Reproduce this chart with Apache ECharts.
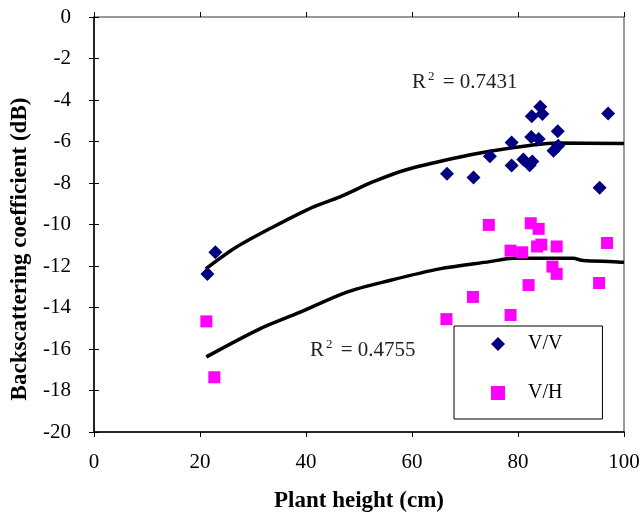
<!DOCTYPE html>
<html>
<head>
<meta charset="utf-8">
<script src="https://cdn.jsdelivr.net/npm/echarts@6/dist/echarts.min.js"></script>
<style>
  html, body { margin: 0; padding: 0; background: #fff; }
  #chart { width: 641px; height: 514px; }
</style>
</head>
<body>
<div id="chart"></div>
<script>
// V/V points [plant height cm, dB]
const vvPoints = [
  [21.4, -12.38], [22.9, -11.34], [66.6, -7.55], [71.6, -7.74], [74.7, -6.71],
  [78.8, -6.05], [78.8, -7.16], [81.0, -6.87], [82.2, -7.15], [82.7, -6.96],
  [82.5, -5.78], [83.9, -5.88], [82.6, -4.78], [84.2, -4.33], [84.6, -4.67],
  [87.5, -5.51], [86.7, -6.44], [87.6, -6.2], [97.0, -4.65], [95.4, -8.23]
];
// V/H points
const vhPoints = [
  [21.2, -14.67], [22.7, -17.36], [66.5, -14.56], [71.5, -13.49], [74.5, -10.02],
  [78.6, -11.26], [78.6, -14.36], [80.8, -11.34], [82.4, -9.94], [82.0, -12.92],
  [83.6, -11.06], [83.9, -10.21], [84.4, -10.97], [86.5, -12.03], [87.3, -11.06],
  [87.3, -12.38], [95.3, -12.82], [96.8, -10.89]
];
// fitted trend curves
const vvTrend = [
  [21.1, -12.14], [26.8, -11.1], [33.7, -10.13], [41.3, -9.16], [46.3, -8.68],
  [52.6, -7.95], [58.9, -7.36], [68.4, -6.78], [74.7, -6.47], [82.5, -6.18],
  [87.3, -6.07], [100, -6.1]
];
const vhTrend = [
  [21.2, -16.38], [31.2, -15.04], [38.8, -14.24], [47.6, -13.27], [55.8, -12.7],
  [65.2, -12.14], [74.7, -11.79], [79.1, -11.63], [90.4, -11.63], [92.3, -11.74],
  [98, -11.79], [100, -11.82]
];
const r2Labels = ['0.7431', '0.4755'];

const serif = '"Liberation Serif", "Times New Roman", serif';
let chart = echarts.init(document.getElementById('chart'));

const baseX = { type: 'value', min: 0, max: 100, interval: 20 };
const baseY = { type: 'value', min: -20, max: 0, interval: 2 };

const option = {
  animation: false,
  grid: {
    left: 94, right: 17, top: 17, bottom: 82,
    outerBoundsMode: 'none',
    containLabel: false,
    show: true, borderColor: '#333', borderWidth: 1
  },
  xAxis: [
    Object.assign({}, baseX, {
      name: 'Plant height (cm)',
      nameLocation: 'middle',
      nameGap: 58,
      nameTextStyle: { fontFamily: serif, fontSize: 23, fontWeight: 'bold', color: '#000' },
      axisLine: { onZero: false, lineStyle: { color: '#000', width: 1.5 } },
      axisTick: { inside: false, length: 5, lineStyle: { color: '#000' } },
      axisLabel: { margin: 20, fontFamily: serif, fontSize: 21, color: '#000' },
      splitLine: { show: false }
    }),
    Object.assign({}, baseX, {
      position: 'bottom',
      axisLine: { show: false },
      axisTick: { inside: true, length: 5, lineStyle: { color: '#000' } },
      axisLabel: { show: false },
      splitLine: { show: false }
    })
  ],
  yAxis: [
    Object.assign({}, baseY, {
      axisLine: { onZero: false, lineStyle: { color: '#000', width: 1.5 } },
      axisTick: { inside: false, length: 5, lineStyle: { color: '#000' } },
      axisLabel: { margin: 23, fontFamily: serif, fontSize: 21, color: '#000' },
      splitLine: { show: false }
    }),
    Object.assign({}, baseY, {
      position: 'left',
      axisLine: { show: false },
      axisTick: { inside: true, length: 5, lineStyle: { color: '#000' } },
      axisLabel: { show: false },
      splitLine: { show: false }
    })
  ],
  legend: {
    data: ['V/V', 'V/H'],
    orient: 'vertical',
    left: 454, top: 326,
    padding: [8, 40, 16, 37],
    itemWidth: 14, itemHeight: 14,
    itemGap: 29,
    borderColor: '#000', borderWidth: 1,
    textStyle: { fontFamily: serif, fontSize: 20, color: '#000', padding: [0, 0, 0, 18] }
  },
  graphic: [
    {
      type: 'text', x: 20, y: 249, rotation: Math.PI / 2,
      style: {
        text: 'Backscattering coefficient (dB)',
        font: 'bold 23px ' + serif, fill: '#000',
        align: 'center', verticalAlign: 'middle'
      }
    },
    {
      type: 'text', x: 412, y: 82,
      style: {
        text: 'R{s|2} = ' + r2Labels[0],
        font: '21px ' + serif, fill: '#222',
        verticalAlign: 'middle',
        rich: { s: { fontSize: 13, fontFamily: serif, verticalAlign: 'top', padding: [0, 3, 11, 2] } }
      }
    },
    {
      type: 'text', x: 310, y: 350,
      style: {
        text: 'R{s|2} = ' + r2Labels[1],
        font: '21px ' + serif, fill: '#222',
        verticalAlign: 'middle',
        rich: { s: { fontSize: 13, fontFamily: serif, verticalAlign: 'top', padding: [0, 3, 11, 2] } }
      }
    }
  ],
  series: [
    {
      name: 'fitV', type: 'line', data: vvTrend, smooth: 0.3, showSymbol: false,
      lineStyle: { color: '#000', width: 3.5 }, z: 1
    },
    {
      name: 'fitH', type: 'line', data: vhTrend, smooth: 0.3, showSymbol: false,
      lineStyle: { color: '#000', width: 3.5 }, z: 1
    },
    {
      name: 'V/V', type: 'scatter', data: vvPoints,
      symbol: 'diamond', symbolSize: 14,
      itemStyle: { color: '#000080', opacity: 1 }, z: 3
    },
    {
      name: 'V/H', type: 'scatter', data: vhPoints,
      symbol: 'rect', symbolSize: 12,
      itemStyle: { color: '#FF00FF', opacity: 1 }, z: 3
    }
  ]
};
chart.setOption(option);
window.onresize = function () {
  chart.resize();
};
</script>
</body>
</html>
